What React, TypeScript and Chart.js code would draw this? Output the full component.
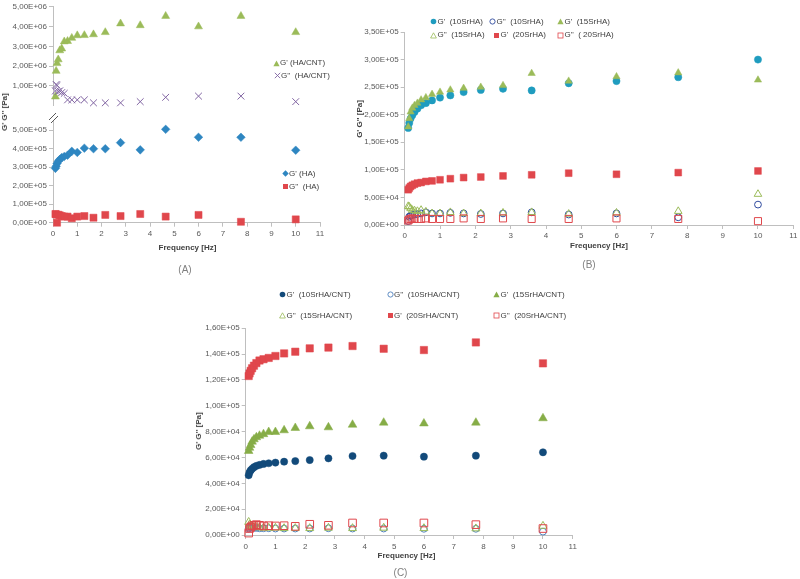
import React, { useEffect, useRef } from "react";
import { Chart, registerables } from "chart.js";

Chart.register(...registerables);

// ---------- data ----------
const freq = [0.1, 0.1292, 0.1668, 0.2154, 0.2783, 0.3594, 0.4642, 0.5995, 0.7743, 1, 1.292, 1.668, 2.154, 2.783, 3.594, 4.642, 5.995, 7.743, 10];

// Panel A (upper, HA/CNT)
const gpHACNT = [0.45e6, 1.75e6, 2.14e6, 2.33e6, 2.79e6, 2.88e6, 3.24e6, 3.26e6, 3.42e6, 3.55e6, 3.56e6, 3.6e6, 3.71e6, 4.15e6, 4.06e6, 4.53e6, 4.0e6, 4.53e6, 3.71e6];
const gppHACNT = [0.74e6, 1.07e6, 1.02e6, 0.72e6, 0.75e6, 0.66e6, 0.62e6, 0.29e6, 0.29e6, 0.29e6, 0.29e6, 0.14e6, 0.14e6, 0.14e6, 0.2e6, 0.42e6, 0.48e6, 0.48e6, 0.2e6];
// Panel A (lower, HA)
const gpHA = [2.94e5, 3.05e5, 3.2e5, 3.32e5, 3.42e5, 3.52e5, 3.58e5, 3.65e5, 3.86e5, 3.8e5, 4.03e5, 4.0e5, 4.0e5, 4.33e5, 3.94e5, 5.05e5, 4.62e5, 4.62e5, 3.92e5];
const gppHA = [0.47e5, 0.45e5, 0.0, 0.43e5, 0.4e5, 0.36e5, 0.33e5, 0.33e5, 0.24e5, 0.33e5, 0.36e5, 0.27e5, 0.42e5, 0.36e5, 0.47e5, 0.33e5, 0.42e5, 0.05e5, 0.18e5];

// Panel B
const gp10 = [1.76e5, 1.85e5, 1.93e5, 1.99e5, 2.05e5, 2.11e5, 2.17e5, 2.21e5, 2.26e5, 2.31e5, 2.35e5, 2.41e5, 2.45e5, 2.47e5, 2.44e5, 2.57e5, 2.61e5, 2.68e5, 3.0e5];
const gpp10 = [0.07e5, 0.15e5, 0.17e5, 0.18e5, 0.19e5, 0.2e5, 0.21e5, 0.23e5, 0.21e5, 0.21e5, 0.22e5, 0.21e5, 0.2e5, 0.21e5, 0.23e5, 0.19e5, 0.21e5, 0.14e5, 0.37e5];
const gp15 = [1.78e5, 1.93e5, 2.05e5, 2.12e5, 2.17e5, 2.21e5, 2.27e5, 2.31e5, 2.37e5, 2.41e5, 2.45e5, 2.48e5, 2.5e5, 2.53e5, 2.75e5, 2.61e5, 2.69e5, 2.76e5, 2.63e5];
const gpp15 = [0.34e5, 0.33e5, 0.3e5, 0.27e5, 0.26e5, 0.25e5, 0.27e5, 0.24e5, 0.21e5, 0.21e5, 0.23e5, 0.21e5, 0.21e5, 0.22e5, 0.23e5, 0.2e5, 0.22e5, 0.25e5, 0.56e5];
const gp20 = [0.64e5, 0.67e5, 0.7e5, 0.72e5, 0.74e5, 0.76e5, 0.77e5, 0.79e5, 0.8e5, 0.82e5, 0.84e5, 0.86e5, 0.87e5, 0.89e5, 0.91e5, 0.94e5, 0.92e5, 0.95e5, 0.98e5];
const gpp20 = [0.08e5, 0.1e5, 0.11e5, 0.12e5, 0.11e5, 0.11e5, 0.11e5, 0.12e5, 0.11e5, 0.11e5, 0.11e5, 0.12e5, 0.11e5, 0.12e5, 0.11e5, 0.11e5, 0.12e5, 0.11e5, 0.07e5];

// Panel C
const gp10C = [4.62e4, 4.85e4, 5.0e4, 5.12e4, 5.25e4, 5.35e4, 5.42e4, 5.5e4, 5.55e4, 5.6e4, 5.67e4, 5.72e4, 5.8e4, 5.93e4, 6.11e4, 6.14e4, 6.06e4, 6.14e4, 6.4e4];
const gpp10C = [0.5e4, 0.55e4, 0.6e4, 0.58e4, 0.55e4, 0.55e4, 0.52e4, 0.52e4, 0.52e4, 0.5e4, 0.5e4, 0.5e4, 0.5e4, 0.52e4, 0.5e4, 0.5e4, 0.48e4, 0.48e4, 0.26e4];
const gp15C = [6.5e4, 6.75e4, 6.96e4, 7.22e4, 7.4e4, 7.56e4, 7.68e4, 7.8e4, 7.97e4, 7.97e4, 8.1e4, 8.28e4, 8.41e4, 8.33e4, 8.53e4, 8.69e4, 8.63e4, 8.69e4, 9.03e4];
const gpp15C = [1.0e4, 0.8e4, 0.7e4, 0.65e4, 0.6e4, 0.6e4, 0.58e4, 0.55e4, 0.55e4, 0.55e4, 0.52e4, 0.52e4, 0.52e4, 0.55e4, 0.52e4, 0.55e4, 0.52e4, 0.5e4, 0.7e4];
const gp20C = [1.23e5, 1.25e5, 1.27e5, 1.29e5, 1.31e5, 1.33e5, 1.35e5, 1.36e5, 1.37e5, 1.385e5, 1.405e5, 1.418e5, 1.444e5, 1.45e5, 1.462e5, 1.441e5, 1.431e5, 1.49e5, 1.328e5];
const gpp20C = [0.15e4, 0.5e4, 0.6e4, 0.7e4, 0.75e4, 0.8e4, 0.75e4, 0.7e4, 0.72e4, 0.7e4, 0.72e4, 0.67e4, 0.83e4, 0.75e4, 0.93e4, 0.93e4, 0.93e4, 0.8e4, 0.5e4];

// tick values
const xTicks = [0, 1, 2, 3, 4, 5, 6, 7, 8, 9, 10, 11];
const aTopTicks = [1e6, 2e6, 3e6, 4e6, 5e6];
const aBotTicks = [0, 1e5, 2e5, 3e5, 4e5, 5e5];
const bTicks = [0, 5e4, 1e5, 1.5e5, 2e5, 2.5e5, 3e5, 3.5e5];
const cTicks = [0, 2e4, 4e4, 6e4, 8e4, 1e5, 1.2e5, 1.4e5, 1.6e5];

// ---------- styles ----------
const GREEN = "#9bbb59";
const GREEN_C = "#86ad47";
const RED = "#e0474c";
const PURPLE = "#8064a2";
const BLUE_D = "#2e86c1";
const TEAL = "#1f9cbf";
const NAVY = "#2f4a9e";
const DARKBLUE = "#124a7a";
const LIGHTBLUE = "#4f81bd";
const FONT = "'Liberation Sans', Arial, sans-serif";
const AXIS = "#bfbfbf";

function sci(v: number): string {
  if (v === 0) return "0,00E+00";
  let e = Math.floor(Math.log10(Math.abs(v)));
  let ms = (v / Math.pow(10, e)).toFixed(2);
  if (ms === "10.00") {
    e += 1;
    ms = (v / Math.pow(10, e)).toFixed(2);
  }
  return ms.replace(".", ",") + "E" + (e < 0 ? "-" : "+") + String(Math.abs(e)).padStart(2, "0");
}

type DS = {
  values: number[];
  style: string;
  color: string;
  radius: number;
  open?: boolean;
};

function makeDataset(d: DS, i: number) {
  return {
    data: freq.map((x, k) => ({ x, y: d.values[k] })),
    pointStyle: d.style,
    pointRadius: d.radius,
    backgroundColor: d.open || d.style === "crossRot" ? "rgba(0,0,0,0)" : d.color,
    borderColor: d.color,
    borderWidth: d.open || d.style === "crossRot" ? 1 : 0.5,
    showLine: false,
    clip: false,
    order: -i,
  };
}

type Box = { left: number; top: number; width: number; height: number };
type Area = { left: number; top: number; right: number; bottom: number };

const breakPlugin = {
  id: "axisBreak",
  afterDraw(chart: any) {
    const { ctx, chartArea } = chart;
    const x = chartArea.left;
    const y = chartArea.top;
    ctx.save();
    ctx.strokeStyle = "#595959";
    ctx.lineWidth = 1;
    ctx.beginPath();
    ctx.moveTo(x - 4, y - 1);
    ctx.lineTo(x + 3, y - 8);
    ctx.moveTo(x - 2, y + 2);
    ctx.lineTo(x + 5, y - 5);
    ctx.stroke();
    ctx.restore();
  },
};

function ScatterPanel(props: {
  box: Box;
  area: Area;
  series: DS[];
  yMin: number;
  yMax: number;
  yTicks: number[];
  showX: boolean;
  xLabelGap?: number;
  withBreak?: boolean;
}) {
  const ref = useRef<HTMLCanvasElement>(null);
  useEffect(() => {
    const { box, area, series, yMin, yMax, yTicks, showX, withBreak } = props;
    const wY = area.left - box.left;
    const hX = box.top + box.height - area.bottom;
    const tickFont = { family: FONT, size: 8 };
    const chart = new Chart(ref.current as HTMLCanvasElement, {
      type: "scatter",
      data: { datasets: series.map(makeDataset) as any },
      options: {
        responsive: false,
        animation: false,
        events: [],
        layout: {
          padding: {
            left: 0,
            top: area.top - box.top,
            right: box.left + box.width - area.right,
            bottom: showX ? 0 : hX,
          },
        },
        plugins: {
          legend: { display: false },
          tooltip: { enabled: false },
          title: { display: false },
        },
        scales: {
          x: {
            type: "linear",
            min: 0,
            max: 11,
            display: showX,
            afterBuildTicks: (s: any) => {
              s.ticks = xTicks.map((v) => ({ value: v }));
            },
            afterFit: (s: any) => {
              s.height = hX;
            },
            grid: { display: true, drawOnChartArea: false, drawTicks: true, tickLength: 4, color: AXIS },
            border: { display: true, color: AXIS, width: 1 },
            ticks: { font: tickFont, color: "#595959", padding: props.xLabelGap ?? 2, maxRotation: 0, autoSkip: false },
          },
          y: {
            type: "linear",
            min: yMin,
            max: yMax,
            afterBuildTicks: (s: any) => {
              s.ticks = yTicks.map((v) => ({ value: v }));
            },
            afterFit: (s: any) => {
              s.width = wY;
            },
            grid: { display: true, drawOnChartArea: false, drawTicks: true, tickLength: 4, color: AXIS },
            border: { display: true, color: AXIS, width: 1 },
            ticks: {
              font: tickFont,
              color: "#595959",
              padding: 2,
              autoSkip: false,
              callback: (v: any) => sci(Number(v)),
            },
          },
        },
      } as any,
      plugins: withBreak ? [breakPlugin] : [],
    });
    return () => chart.destroy();
  }, []);
  const { box } = props;
  return (
    <canvas
      ref={ref}
      width={box.width}
      height={box.height}
      style={{ position: "absolute", left: box.left, top: box.top, width: box.width, height: box.height }}
    />
  );
}

type Shape = "circle" | "circleOpen" | "triangle" | "triangleOpen" | "square" | "squareOpen" | "diamond" | "cross";

function Marker({ shape, color }: { shape: Shape; color: string }) {
  const s = 7;
  const h = s / 2;
  let el: any = null;
  switch (shape) {
    case "circle":
      el = <circle cx={h} cy={h} r={2.8} fill={color} />;
      break;
    case "circleOpen":
      el = <circle cx={h} cy={h} r={2.6} fill="none" stroke={color} strokeWidth={0.9} />;
      break;
    case "triangle":
      el = <polygon points={`${h},0.6 ${s - 0.4},${s - 0.8} 0.4,${s - 0.8}`} fill={color} />;
      break;
    case "triangleOpen":
      el = <polygon points={`${h},0.8 ${s - 0.6},${s - 1} 0.6,${s - 1}`} fill="none" stroke={color} strokeWidth={0.8} />;
      break;
    case "square":
      el = <rect x={1} y={1} width={5} height={5} fill={color} />;
      break;
    case "squareOpen":
      el = <rect x={1} y={1} width={5} height={5} fill="none" stroke={color} strokeWidth={0.8} />;
      break;
    case "diamond":
      el = <polygon points={`${h},0.3 ${s - 0.3},${h} ${h},${s - 0.3} 0.3,${h}`} fill={color} />;
      break;
    case "cross":
      el = (
        <g stroke={color} strokeWidth={0.9}>
          <line x1={0.8} y1={0.8} x2={s - 0.8} y2={s - 0.8} />
          <line x1={s - 0.8} y1={0.8} x2={0.8} y2={s - 0.8} />
        </g>
      );
      break;
  }
  return (
    <svg width={s} height={s} style={{ position: "absolute", left: -h, top: -h, overflow: "visible" }}>
      {el}
    </svg>
  );
}

type LegendItem = { x: number; y: number; shape: Shape; color: string; text: string };

const legendA: LegendItem[] = [
  { x: 276, y: 63, shape: "triangle", color: GREEN, text: "G' (HA/CNT)" },
  { x: 277, y: 75.5, shape: "cross", color: PURPLE, text: "G''  (HA/CNT)" },
  { x: 285, y: 173.5, shape: "diamond", color: BLUE_D, text: "G' (HA)" },
  { x: 285, y: 186.5, shape: "square", color: RED, text: "G''  (HA)" },
];
const legendB: LegendItem[] = [
  { x: 433.5, y: 21.5, shape: "circle", color: TEAL, text: "G'  (10SrHA)" },
  { x: 492.5, y: 21.5, shape: "circleOpen", color: NAVY, text: "G''  (10SrHA)" },
  { x: 560.5, y: 21.5, shape: "triangle", color: GREEN, text: "G'  (15SrHA)" },
  { x: 433.5, y: 35, shape: "triangleOpen", color: GREEN, text: "G''  (15SrHA)" },
  { x: 496.5, y: 35, shape: "square", color: RED, text: "G'  (20SrHA)" },
  { x: 560.5, y: 35, shape: "squareOpen", color: RED, text: "G''  ( 20SrHA)" },
];
const legendC: LegendItem[] = [
  { x: 282.5, y: 294.5, shape: "circle", color: DARKBLUE, text: "G'  (10SrHA/CNT)" },
  { x: 390, y: 294.5, shape: "circleOpen", color: LIGHTBLUE, text: "G''  (10SrHA/CNT)" },
  { x: 496.5, y: 294.5, shape: "triangle", color: GREEN_C, text: "G'  (15SrHA/CNT)" },
  { x: 282.5, y: 315.5, shape: "triangleOpen", color: GREEN, text: "G''  (15SrHA/CNT)" },
  { x: 390, y: 315.5, shape: "square", color: RED, text: "G'  (20SrHA/CNT)" },
  { x: 496.5, y: 315.5, shape: "squareOpen", color: RED, text: "G''  (20SrHA/CNT)" },
];

function Legend({ items }: { items: LegendItem[] }) {
  return (
    <>
      {items.map((it, i) => (
        <div key={i} style={{ position: "absolute", left: it.x, top: it.y, width: 0, height: 0 }}>
          <Marker shape={it.shape} color={it.color} />
          <span
            style={{
              position: "absolute",
              left: 4,
              top: -6,
              height: 12,
              lineHeight: "12px",
              fontFamily: FONT,
              fontSize: 8,
              color: "#404040",
              whiteSpace: "pre",
            }}
          >
            {it.text}
          </span>
        </div>
      ))}
    </>
  );
}

function Label(props: { x: number; y: number; text: string; bold?: boolean; size?: number; color?: string; rotate?: boolean }) {
  return (
    <div
      style={{
        position: "absolute",
        left: props.x,
        top: props.y,
        transform: `translate(-50%, -50%)${props.rotate ? " rotate(-90deg)" : ""}`,
        fontFamily: FONT,
        fontSize: props.size ?? 8,
        fontWeight: props.bold ? "bold" : "normal",
        color: props.color ?? "#404040",
        whiteSpace: "pre",
        lineHeight: "12px",
      }}
    >
      {props.text}
    </div>
  );
}

const seriesATop: DS[] = [
  { values: gpHACNT, style: "triangle", color: GREEN, radius: 4.6 },
  { values: gppHACNT, style: "crossRot", color: PURPLE, radius: 4.8 },
];
const seriesABot: DS[] = [
  { values: gpHA, style: "rectRot", color: BLUE_D, radius: 4.3 },
  { values: gppHA, style: "rect", color: RED, radius: 5 },
];
const seriesB: DS[] = [
  { values: gp10, style: "circle", color: TEAL, radius: 3.6 },
  { values: gpp10, style: "circle", color: NAVY, radius: 3.4, open: true },
  { values: gp15, style: "triangle", color: GREEN, radius: 4.2 },
  { values: gpp15, style: "triangle", color: GREEN, radius: 4.4, open: true },
  { values: gp20, style: "rect", color: RED, radius: 4.8 },
  { values: gpp20, style: "rect", color: RED, radius: 5, open: true },
];
const seriesC: DS[] = [
  { values: gp10C, style: "circle", color: DARKBLUE, radius: 3.6 },
  { values: gpp10C, style: "circle", color: LIGHTBLUE, radius: 3.4, open: true },
  { values: gp15C, style: "triangle", color: GREEN_C, radius: 5 },
  { values: gpp15C, style: "triangle", color: GREEN, radius: 4.6, open: true },
  { values: gp20C, style: "rect", color: RED, radius: 5.2 },
  { values: gpp20C, style: "rect", color: RED, radius: 5.4, open: true },
];

export default function App() {
  return (
    <div style={{ position: "absolute", left: 0, top: 0, width: 800, height: 579, background: "#ffffff", overflow: "hidden" }}>
      {/* Panel A */}
      <ScatterPanel
        box={{ left: 0, top: 0, width: 340, height: 125 }}
        area={{ left: 53, top: 5.3, right: 320, bottom: 115.3 }}
        series={seriesATop}
        yMin={0}
        yMax={5e6}
        yTicks={aTopTicks}
        showX={false}
      />
      <ScatterPanel
        box={{ left: 0, top: 105, width: 340, height: 138 }}
        area={{ left: 53, top: 121, right: 320, bottom: 222.7 }}
        series={seriesABot}
        yMin={0}
        yMax={5.5e5}
        yTicks={aBotTicks}
        showX={true}
        withBreak={true}
      />
      <Legend items={legendA} />
      <Label x={187.5} y={247.5} text="Frequency [Hz]" bold />
      <Label x={4.5} y={112} text="G' G'' [Pa]" bold rotate />
      <Label x={185} y={270} text="(A)" size={10} color="#7f7f7f" />

      {/* Panel B */}
      <ScatterPanel
        box={{ left: 340, top: 20, width: 460, height: 223 }}
        area={{ left: 404.7, top: 32, right: 793.3, bottom: 225 }}
        series={seriesB}
        yMin={0}
        yMax={3.5e5}
        yTicks={bTicks}
        showX={true}
      />
      <Legend items={legendB} />
      <Label x={599} y={246} text="Frequency [Hz]" bold />
      <Label x={359.5} y={119} text="G' G'' [Pa]" bold rotate />
      <Label x={589} y={265} text="(B)" size={10} color="#7f7f7f" />

      {/* Panel C */}
      <ScatterPanel
        box={{ left: 190, top: 315, width: 400, height: 240 }}
        area={{ left: 245.7, top: 328.2, right: 572.7, bottom: 535 }}
        series={seriesC}
        yMin={0}
        yMax={1.6e5}
        yTicks={cTicks}
        showX={true}
        xLabelGap={3}
      />
      <Legend items={legendC} />
      <Label x={406.5} y={555.5} text="Frequency [Hz]" bold />
      <Label x={198.5} y={431} text="G' G'' [Pa]" bold rotate />
      <Label x={400.5} y={572.5} text="(C)" size={10} color="#7f7f7f" />
    </div>
  );
}
